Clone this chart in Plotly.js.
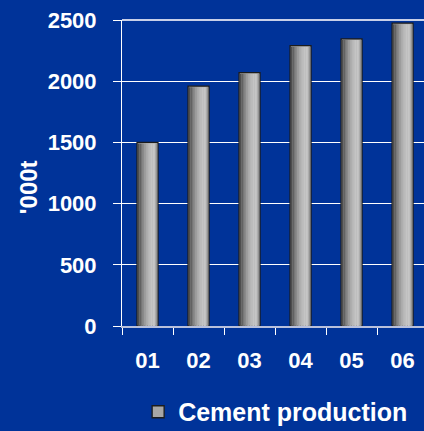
<!DOCTYPE html>
<html>
<head>
<meta charset="utf-8">
<script src="https://cdn.plot.ly/plotly-3.0.1.min.js"></script>
<style>html,body{margin:0;padding:0;background:#003399;}#chart{width:424px;height:431px;}</style>
</head>
<body>
<div id="chart"></div>
<script>
const categories = ['01', '02', '03', '04', '05', '06'];
const cementProduction = [1500, 1960, 2070, 2290, 2345, 2475];
const seriesName = 'Cement production';
const yTickValues = [0, 500, 1000, 1500, 2000, 2500];
const yAxisLabel = "'000t";

const BAR_W = 0.41;
const stripColors = ['#4e4e4e','#626262','#767676','#8a8a8a','#9c9c9c','#aaaaaa','#b6b6b6','#bebebe','#c4c4c4','#c6c6c6','#c2c2c2','#949494'];
const inset = 0.014;
const innerW = BAR_W - 2 * inset;
const stripW = innerW / stripColors.length;

const traces = [];
// base bar (outline + legend)
traces.push({
  type: 'bar', x: categories, y: cementProduction, name: seriesName,
  width: BAR_W, offset: -BAR_W / 2,
  marker: {color: '#a6a6a6', line: {color: '#1c1c1c', width: 1.3}},
  hoverinfo: 'x+y', showlegend: true
});
// gradient strips
stripColors.forEach((c, i) => {
  traces.push({
    type: 'bar', x: categories, y: cementProduction.map(v => v - 9),
    width: stripW + 0.002, offset: -BAR_W / 2 + inset + i * stripW,
    marker: {color: c, line: {width: 0}}, showlegend: false, hoverinfo: 'skip'
  });
});

const font = {family: 'Liberation Sans, Arial, sans-serif', size: 22, color: '#ffffff', weight: 'bold'};

const layout = {
  width: 424, height: 431,
  paper_bgcolor: '#003399', plot_bgcolor: '#003399',
  margin: {l: 122, r: 0, t: 20, b: 105, pad: 0, autoexpand: false},
  barmode: 'overlay',
  font: font,
  xaxis: {
    type: 'category', range: [-0.5, 5.42],
    tickson: 'boundaries', ticks: 'outside', ticklen: 7, tickwidth: 1, tickcolor: '#ffffff',
    showline: true, linecolor: '#b8c0dc', linewidth: 2,
    showgrid: false, tickfont: font, ticklabelstandoff: 14, fixedrange: true
  },
  yaxis: {
    range: [0, 2500], tickvals: yTickValues,
    ticks: 'outside', ticklen: 8, tickwidth: 1, tickcolor: '#ffffff',
    showline: true, linecolor: '#ffffff', linewidth: 1,
    showgrid: true, gridcolor: '#ffffff', gridwidth: 1,
    zeroline: false, tickfont: font, ticklabelstandoff: 12, fixedrange: true
  },
  shapes: [{
    type: 'line', xref: 'paper', yref: 'paper', x0: 0, x1: 1, y0: 1, y1: 1,
    line: {color: '#c8d0e8', width: 2}
  }],
  annotations: [{
    text: yAxisLabel, xref: 'paper', yref: 'paper', x: -0.31, y: 0.455,
    xanchor: 'center', yanchor: 'middle', textangle: -90, showarrow: false,
    font: {family: 'Liberation Sans, Arial, sans-serif', size: 24, color: '#ffffff', weight: 'bold'}
  }],
  showlegend: true,
  legend: {
    x: 0.964, xanchor: 'right', y: -0.281, yanchor: 'middle',
    bgcolor: 'rgba(0,0,0,0)', itemwidth: 30,
    font: {family: 'Liberation Sans, Arial, sans-serif', size: 25, color: '#ffffff', weight: 'bold'}
  }
};

Plotly.newPlot('chart', traces, layout, {displayModeBar: false, staticPlot: true});
</script>
</body>
</html>
